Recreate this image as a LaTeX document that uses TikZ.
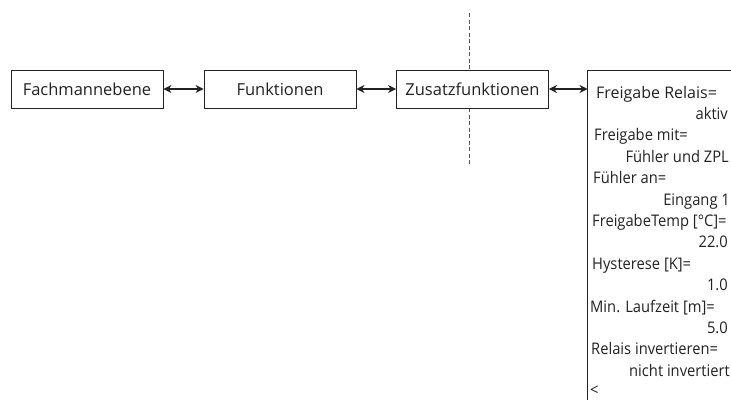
\documentclass[tikz,border=0pt]{standalone}
\usepackage{fontspec}
\setmainfont{Open Sans}
\usetikzlibrary{arrows.meta}
\definecolor{ink}{HTML}{222222}
\definecolor{guide}{HTML}{555555}
\newcommand{\cnd}[1]{\scalebox{0.92}[1]{#1}}
\begin{document}
\begin{tikzpicture}[x=1pt,y=-1pt,
  menubox/.style={draw=ink,line width=0.9pt,minimum width=152pt,minimum height=38pt,
    inner sep=0pt,font=\fontsize{16.5}{18}\selectfont,text=ink},
  link/.style={draw=ink,line width=1.2pt,
    {Stealth[length=8pt,width=8pt]}-{Stealth[length=8pt,width=8pt]}},
  lbl/.style={anchor=base west,inner sep=0pt,text=ink,font=\fontsize{16}{18}\selectfont},
  val/.style={anchor=base east,inner sep=0pt,text=ink,font=\fontsize{16}{18}\selectfont}]
\useasboundingbox (0,0) rectangle (731,399);
\clip (0,0) rectangle (731,399);

% separator
\draw[guide,line width=0.8pt,dash pattern=on 4pt off 2.5pt] (469,13) -- (469,70);
\draw[guide,line width=0.8pt,dash pattern=on 4pt off 2.5pt] (469,108) -- (469,165);

% menu levels
\node[menubox] (fach) at (87,89) {Fachmannebene};
\node[menubox] (funk) at (280,89) {Funktionen};
\node[menubox,fill=white] (zus) at (472.5,89) {Zusatzfunktionen};

% parameter list
\coordinate (ptl) at (587.5,70);
\draw[ink,line width=0.9pt] (740,70) -- (ptl) -- (587.5,410);
\coordinate (pin) at (587.5,89);

\draw[link] (fach.east) -- (funk.west);
\draw[link] (funk.east) -- (zus.west);
\draw[link] (zus.east) -- (pin);

\node[lbl] (l1) at (596,98) {Freigabe Relais=};
\node[val] (v1) at (728,119.4) {\cnd{aktiv}};
\node[lbl] (l2) at (594,140.8) {\cnd{Freigabe mit=}};
\node[val] (v2) at (729,162.2) {\cnd{Fühler und ZPL}};
\node[lbl] (l3) at (593,183.6) {\cnd{Fühler an=}};
\node[val] (v3) at (730,205) {\cnd{Eingang 1}};
\node[lbl] (l4) at (592,226.4) {\cnd{FreigabeTemp [°C]=}};
\node[val] (v4) at (728,247.8) {\cnd{22.0}};
\node[lbl] (l5) at (592,269.2) {\cnd{Hysterese [K]=}};
\node[val] (v5) at (728,290.6) {\cnd{1.0}};
\node[lbl] (l6) at (590,312) {\cnd{Min. Laufzeit [m]=}};
\node[val] (v6) at (728,333.4) {\cnd{5.0}};
\node[lbl] (l7) at (591,354.8) {\cnd{Relais invertieren=}};
\node[val] (v7) at (730,376.2) {\cnd{nicht invertiert}};
\node[lbl] (l8) at (590,395) {\cnd{<}};
\end{tikzpicture}
\end{document}
